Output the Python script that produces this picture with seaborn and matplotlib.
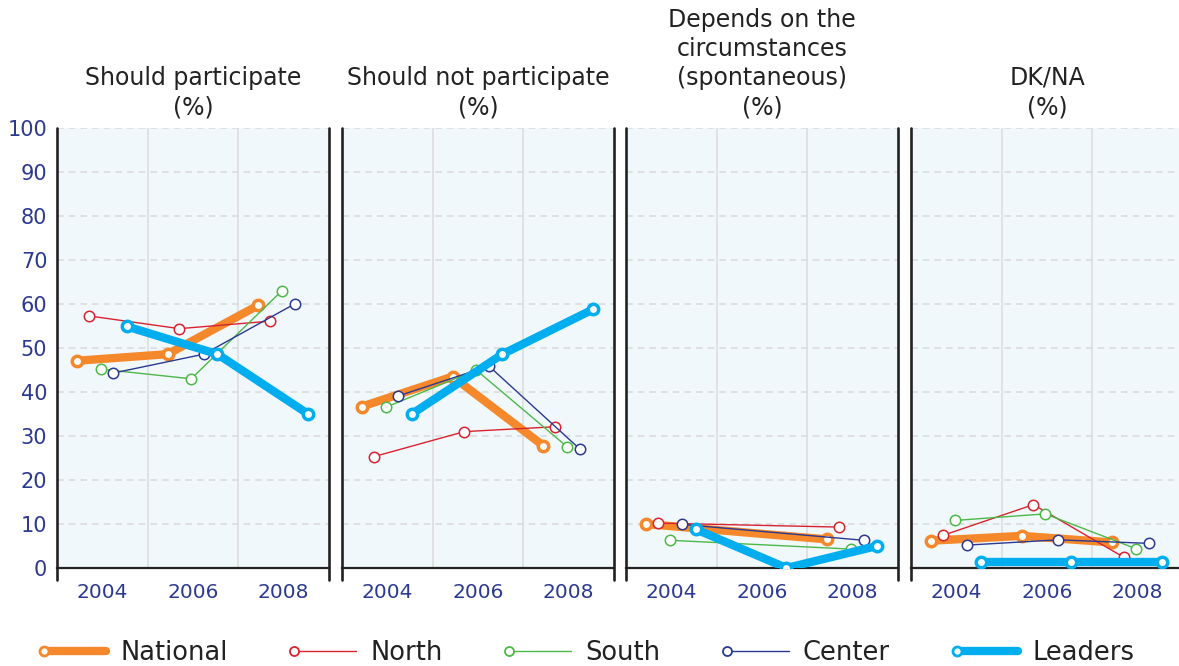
import numpy as np
import pandas as pd
import matplotlib
matplotlib.use("Agg")
import matplotlib.pyplot as plt
import seaborn as sns
from matplotlib.lines import Line2D
from matplotlib.legend_handler import HandlerLine2D

# data
years = ["2004", "2006", "2008"]
titles = ["Should participate\n(%)",
          "Should not participate\n(%)",
          "Depends on the\ncircumstances\n(spontaneous)\n(%)",
          "DK/NA\n(%)"]
series_names = ["National", "North", "South", "Center", "Leaders"]
nan = np.nan
national = [[47.1, 48.6, 59.7], [36.7, 43.5, 27.8], [10.0, nan, 6.5], [6.2, 7.3, 5.8]]
north = [[57.3, 54.4, 56.1], [25.3, 31.0, 32.1], [10.2, nan, 9.3], [7.4, 14.4, 2.4]]
south = [[45.2, 43.0, 63.0], [36.5, 45.0, 27.6], [6.3, nan, 4.3], [10.8, 12.3, 4.4]]
center = [[44.3, 48.6, 60.0], [39.1, 45.9, 27.1], [9.9, nan, 6.3], [5.2, 6.4, 5.6]]
leaders = [[54.9, 48.6, 35.0], [35.0, 48.6, 58.8], [8.8, 0.0, 5.0], [1.3, 1.3, 1.3]]
values = dict(zip(series_names, [national, north, south, center, leaders]))

# style per series: colour, dodge offset, line width, marker size, marker edge
styles = {
    "National": ("#f5882b", -0.28, 6.0, 7.5, 2.5),
    "North":    ("#d8232f", -0.15, 1.0, 7.5, 1.1),
    "South":    ("#4cb848", -0.02, 1.0, 7.5, 1.1),
    "Center":   ("#2b3990", 0.12, 1.0, 7.5, 1.1),
    "Leaders":  ("#00aeef", 0.27, 6.0, 7.5, 2.5),
}

rows = []
for name in series_names:
    for p, title in enumerate(titles):
        for i, yr in enumerate(years):
            rows.append({"panel": p, "series": name, "year_idx": i,
                         "value": values[name][p][i]})
df = pd.DataFrame(rows)

sns.set_style("white")
plt.rcParams["font.family"] = ["DejaVu Sans"]

fig = plt.figure(figsize=(11.79, 6.66), dpi=100)
W, H = 1179, 666
lefts = [57, 342, 626, 911]
top, bottom = 128, 568
tick_col = "#2b3990"
text_col = "#222222"

for p, title in enumerate(titles):
    ax = fig.add_axes([lefts[p] / W, (H - bottom) / H, 272 / W, (bottom - top) / H])
    ax.set_facecolor("#f1f8fc")
    for name in series_names:
        col, off, lw, ms, mew = styles[name]
        d = df[(df.panel == p) & (df.series == name)].dropna()
        sns.lineplot(x=d["year_idx"] + off, y=d["value"], ax=ax, color=col, lw=lw,
                     marker="o", markersize=ms, markerfacecolor="white",
                     markeredgecolor=col, markeredgewidth=mew,
                     estimator=None, sort=False, legend=False, zorder=3)
    ax.set_xlim(-0.5, 2.5)
    ax.set_ylim(0, 100)
    ax.set_xlabel("")
    ax.set_ylabel("")
    ax.set_yticks(range(0, 101, 10))
    ax.yaxis.grid(True, ls=(0, (4, 3)), color="#dcdcdc", lw=1.2)
    ax.set_xticks([0, 1, 2])
    ax.set_xticklabels(years)
    ax.set_xticks([0.5, 1.5], minor=True)
    ax.xaxis.grid(True, which="minor", color="#dddddd", lw=1.2)
    ax.tick_params(axis="x", which="major", length=0, pad=11, labelsize=14.5,
                   labelcolor=tick_col)
    ax.tick_params(axis="x", which="minor", length=9, width=1.2, color="#dddddd",
                   direction="out")
    ax.tick_params(axis="y", length=0, pad=7, labelsize=15, labelcolor=tick_col)
    if p > 0:
        ax.tick_params(axis="y", labelleft=False)
    ax.spines["top"].set_visible(False)
    ax.spines["bottom"].set_color("#222222")
    ax.spines["bottom"].set_linewidth(1.6)
    for side in ["left", "right"]:
        ax.spines[side].set_visible(False)
        x = 0 if side == "left" else 1
        ax.plot([x, x], [-0.028, 1], transform=ax.transAxes, color="#222222",
                lw=1.9, clip_on=False, zorder=5)
    ax.set_title(title, fontsize=17, color=text_col, linespacing=1.27, pad=10)


class LeftMarkerHandler(HandlerLine2D):
    def create_artists(self, *args, **kwargs):
        artists = super().create_artists(*args, **kwargs)
        artists[0].set_markevery([0])
        return artists


handles = []
for name in series_names:
    col, off, lw, ms, mew = styles[name]
    handles.append(Line2D([], [], color=col, lw=lw, marker="o", markersize=6.5,
                          markerfacecolor="white", markeredgecolor=col,
                          markeredgewidth=1.3 if lw < 2 else 2.0))
leg = fig.legend(handles, series_names, loc="center", bbox_to_anchor=(0.5, 0.02),
                 ncol=5, frameon=False, fontsize=18.5, handlelength=2.4,
                 handletextpad=0.55, columnspacing=2.6, numpoints=1,
                 handler_map={Line2D: LeftMarkerHandler()})
for t in leg.get_texts():
    t.set_color(text_col)

fig.savefig("out.png", dpi=100)
